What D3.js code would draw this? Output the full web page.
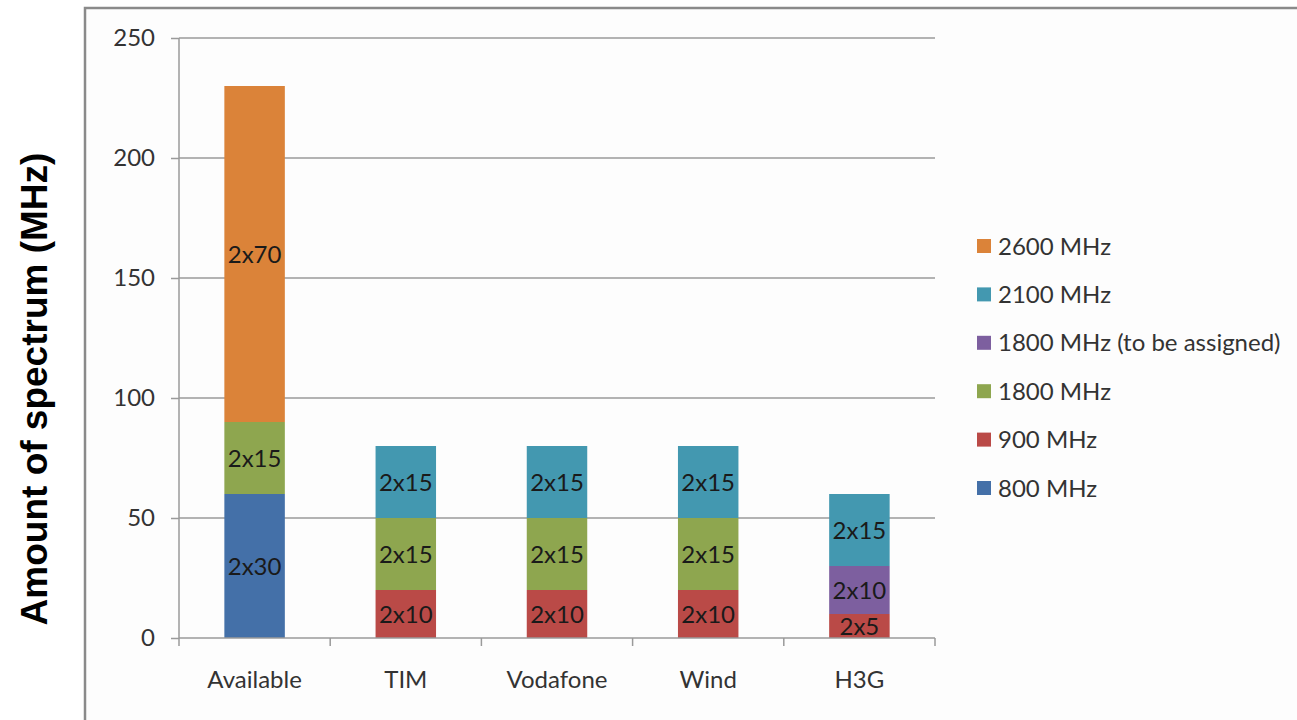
<!DOCTYPE html>
<html><head><meta charset="utf-8">
<script src="https://cdn.jsdelivr.net/npm/d3@7"></script>
<style>
html,body{margin:0;padding:0;background:#fff;}
svg{display:block;}
text{font-family:Lato,"Open Sans",sans-serif;fill:#222;}
</style></head><body>
<svg id="c" width="1297" height="720"></svg>
<script>
const categories = ["Available","TIM","Vodafone","Wind","H3G"];
const seriesNames = ["800 MHz","900 MHz","1800 MHz","1800 MHz (to be assigned)","2100 MHz","2600 MHz"];
const s800  = [60, 0, 0, 0, 0];
const s900  = [0, 20, 20, 20, 10];
const s1800 = [30, 30, 30, 30, 0];
const s1800tba = [0, 0, 0, 0, 20];
const s2100 = [0, 30, 30, 30, 30];
const s2600 = [140, 0, 0, 0, 0];
const yTicks = [0, 50, 100, 150, 200, 250];
const colors = ["#4470A8","#BA4A47","#8EA64F","#7D5F9F","#4398B0","#DB8339"];

const seriesValues = [s800, s900, s1800, s1800tba, s2100, s2600];
const table = categories.map((c,i)=>{
  const o = {cat:c};
  seriesNames.forEach((n,j)=>o[n]=seriesValues[j][i]);
  return o;
});

const FS = "24px";
const svg = d3.select("#c");
// outer frame
svg.append("rect").attr("x",85).attr("y",8).attr("width",1300).attr("height",800)
  .attr("fill","#fdfdfd").attr("stroke","#8a8a8a").attr("stroke-width",2.5);

const pLeft=179, pRight=935, pTop=38, pBottom=638;
const x = d3.scaleBand().domain(categories).range([pLeft,pRight]).paddingInner(0.6).paddingOuter(0.3);
const xb = d3.scaleBand().domain(categories).range([pLeft,pRight]);
const y = d3.scaleLinear().domain([0,250]).range([pBottom,pTop]);

// gridlines
svg.append("g").selectAll("line").data(yTicks.filter(t=>t>0)).join("line")
  .attr("x1",pLeft).attr("x2",pRight).attr("y1",d=>y(d)).attr("y2",d=>y(d))
  .attr("stroke","#9a9a9a").attr("stroke-width",1.5);

const stack = d3.stack().keys(seriesNames)(table);
const gBars = svg.append("g");
stack.forEach((layer,j)=>{
  gBars.append("g").selectAll("rect").data(layer.filter(d=>d[1]-d[0]>0)).join("rect")
    .attr("x",d=>x(d.data.cat)).attr("width",x.bandwidth())
    .attr("y",d=>y(d[1])).attr("height",d=>y(d[0])-y(d[1]))
    .attr("fill",colors[j]);
  gBars.append("g").selectAll("text").data(layer.filter(d=>d[1]-d[0]>0)).join("text")
    .attr("x",d=>x(d.data.cat)+x.bandwidth()/2)
    .attr("y",d=>(y(d[0])+y(d[1]))/2)
    .attr("dy","0.36em").attr("text-anchor","middle")
    .style("font-size",FS).style("fill","#1a1a1a")
    .text(d=>"2x"+((d[1]-d[0])/2));
});

// y axis
const ya = svg.append("g").attr("transform",`translate(${pLeft},0)`)
  .call(d3.axisLeft(y).tickValues(yTicks).tickSize(8).tickPadding(16));
ya.select(".domain").attr("stroke","#9a9a9a").attr("stroke-width",1.5).attr("d",`M0,${pTop}V${pBottom}`);
ya.selectAll(".tick line").attr("stroke","#9a9a9a").attr("stroke-width",1.5);
ya.selectAll(".tick text").style("font-size",FS).style("fill","#333").style("font-family","Lato");

// x axis
const xa = svg.append("g").attr("transform",`translate(0,${pBottom})`)
  .call(d3.axisBottom(xb).tickSize(0));
xa.select(".domain").attr("stroke","#9a9a9a").attr("stroke-width",1.5).attr("d",`M${pLeft},0H${pRight}`);
xa.selectAll(".tick text").attr("dy",null).attr("y",50)
  .style("font-size",FS).style("fill","#333").style("font-family","Lato");
const bounds = categories.map(c=>xb(c)).concat([pRight]);
xa.append("g").selectAll("line").data(bounds).join("line")
  .attr("x1",d=>d).attr("x2",d=>d).attr("y1",0).attr("y2",8)
  .attr("stroke","#9a9a9a").attr("stroke-width",1.5);

// legend
const legOrder = seriesNames.map((n,i)=>({n,c:colors[i]})).reverse();
const lg = svg.append("g").selectAll("g").data(legOrder).join("g")
  .attr("transform",(d,i)=>`translate(977,${246+i*48.4})`);
lg.append("rect").attr("x",0).attr("y",-7).attr("width",14).attr("height",14).attr("fill",d=>d.c);
lg.append("text").attr("x",21).attr("dy","0.36em").style("font-size",FS).style("fill","#333").text(d=>d.n);

// y title
svg.append("text").attr("transform","translate(34,389) rotate(-90)")
  .attr("text-anchor","middle").attr("dy","0.36em")
  .style("font-family","'Liberation Sans',Arial,sans-serif").style("font-weight","bold")
  .style("font-size","37px").style("fill","#000")
  .text("Amount of spectrum (MHz)");
</script>
</body></html>
